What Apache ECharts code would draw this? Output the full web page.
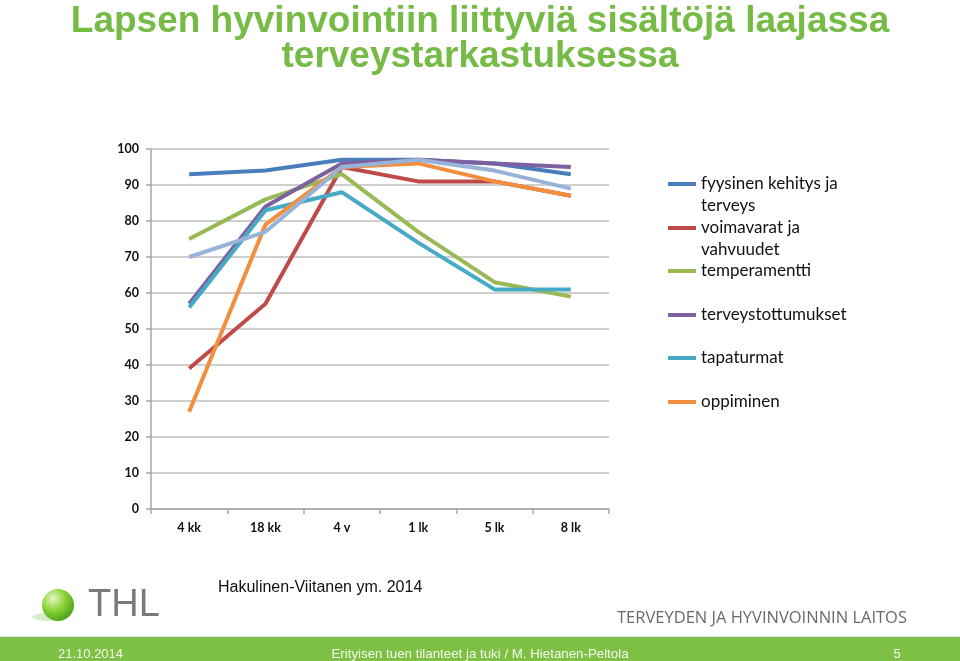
<!DOCTYPE html>
<html><head><meta charset="utf-8">
<script src="https://cdn.jsdelivr.net/npm/echarts@6/dist/echarts.min.js"></script>
<style>html,body{margin:0;padding:0;background:#fff}#c{width:960px;height:661px}</style>
</head><body><div id="c"></div>
<script>
var categories = ['4 kk', '18 kk', '4 v', '1 lk', '5 lk', '8 lk'];
var seriesNames = ['fyysinen kehitys ja\nterveys', 'voimavarat ja\nvahvuudet', 'temperamentti', 'terveystottumukset', 'tapaturmat', 'oppiminen', 'muu'];
var fyysinen = [93, 94, 97, 97, 96, 93];
var voimavarat = [39, 57, 95, 91, 91, 87];
var temperamentti = [75, 86, 93, 77, 63, 59];
var terveystottumukset = [57, 84, 96, 97, 96, 95];
var tapaturmat = [56, 83, 88, 74, 61, 61];
var oppiminen = [27, 79, 95, 96, 91, 87];
var muu = [70, 77, 95, 97, 94, 89];
var yTicks = [0, 10, 20, 30, 40, 50, 60, 70, 80, 90, 100];
var colors = ['#4a7ebb', '#be4b48', '#98b954', '#7d60a0', '#46aac5', '#f38e3f', '#98b3d8'];

var allValues = [fyysinen, voimavarat, temperamentti, terveystottumukset, tapaturmat, oppiminen, muu];
var series = allValues.map(function (v, i) {
  return {
    name: seriesNames[i], type: 'line', data: v, symbol: 'none', z: 2 + i,
    lineStyle: { width: 4, color: colors[i] }, itemStyle: { color: colors[i] }
  };
});

var legendCenters = [183, 227, 270, 314, 357, 401];
var legends = legendCenters.map(function (yc, i) {
  var twoLine = seriesNames[i].indexOf('\n') >= 0;
  return {
    show: true, orient: 'vertical', left: 668, top: twoLine ? yc - 32 : yc - 10,
    padding: 0, icon: 'rect', itemWidth: 28, itemHeight: 4, selectedMode: false,
    data: [seriesNames[i]],
    formatter: function (name) { return name.indexOf('\n') >= 0 ? '\u00a0\n' + name : name; },
    textStyle: { fontFamily: 'Lato', fontSize: 17, color: '#111', lineHeight: 22 }
  };
});

var chart = echarts.init(document.getElementById('c'), null, { renderer: 'canvas' });
chart.setOption({
  animation: false,
  backgroundColor: '#fff',
  legend: legends,
  grid: { left: 151, right: 351, top: 149, bottom: 152, containLabel: false },
  xAxis: {
    type: 'category', data: categories, boundaryGap: true,
    axisLine: { lineStyle: { color: '#a6a6a6', width: 1.5 } },
    axisTick: { show: true, length: 5, lineStyle: { color: '#a6a6a6', width: 1.5 } },
    axisLabel: { margin: 12, fontFamily: 'Lato', fontWeight: 'bold', fontSize: 12.5, color: '#111' }
  },
  yAxis: {
    type: 'value', min: 0, max: 100, interval: 10,
    axisLine: { show: true, lineStyle: { color: '#a6a6a6', width: 1.5 } },
    axisTick: { show: true, length: 5, lineStyle: { color: '#a6a6a6', width: 1.5 } },
    splitLine: { lineStyle: { color: '#bfbfbf', width: 1.5 } },
    axisLabel: { margin: 12, fontFamily: 'Lato', fontWeight: 'bold', fontSize: 12.5, color: '#111',
      formatter: function (v) { return yTicks.indexOf(v) >= 0 ? String(v) : ''; } }
  },
  series: series,
  graphic: [
    { type: 'text', x: 480, y: 39, style: { text: 'Lapsen hyvinvointiin liittyviä sisältöjä laajassa\nterveystarkastuksessa', fill: '#76bb46', textAlign: 'center', textVerticalAlign: 'middle', lineHeight: 35, font: 'bold 37px "Liberation Sans", Arial, sans-serif' } },
    { type: 'rect', shape: { x: 0, y: 637, width: 960, height: 24 }, style: { fill: '#7dc043' }, silent: true },
    { type: 'rect', shape: { x: 0, y: 636, width: 960, height: 1 }, style: { fill: '#e6e6e6' }, silent: true },
    { type: 'text', x: 58, y: 654, style: { text: '21.10.2014', fill: '#f4f8ee', textVerticalAlign: 'middle', font: '13px "Liberation Sans", sans-serif' } },
    { type: 'text', x: 480, y: 654, style: { text: 'Erityisen tuen tilanteet ja tuki / M. Hietanen-Peltola', fill: '#f4f8ee', textAlign: 'center', textVerticalAlign: 'middle', font: '13.3px "Liberation Sans", sans-serif' } },
    { type: 'text', x: 897, y: 654, style: { text: '5', fill: '#f4f8ee', textAlign: 'center', textVerticalAlign: 'middle', font: '13px "Liberation Sans", sans-serif' } },
    { type: 'text', x: 218, y: 588, style: { text: 'Hakulinen-Viitanen ym. 2014', fill: '#111', textVerticalAlign: 'middle', font: '16px "Liberation Sans", sans-serif' } },
    { type: 'text', x: 907, y: 618, style: { text: 'TERVEYDEN JA HYVINVOINNIN LAITOS', fill: '#6a6a6a', textAlign: 'right', textVerticalAlign: 'middle', font: '16.5px "Open Sans", sans-serif' } },
    { type: 'ellipse', shape: { cx: 50, cy: 617, rx: 18, ry: 4 }, style: { fill: 'rgba(140,200,90,0.35)' }, silent: true },
    { type: 'circle', shape: { cx: 58, cy: 605, r: 16 },
      style: { fill: { type: 'radial', x: 0.35, y: 0.3, r: 0.8, colorStops: [{ offset: 0, color: '#e9f7c8' }, { offset: 0.45, color: '#8fd43a' }, { offset: 1, color: '#3f9a14' }] } }, silent: true },
    { type: 'text', x: 88, y: 606, style: { text: 'THL', fill: '#7a7a7a', textVerticalAlign: 'middle', font: '38px "Liberation Sans", sans-serif' } }
  ]
});
</script></body></html>
